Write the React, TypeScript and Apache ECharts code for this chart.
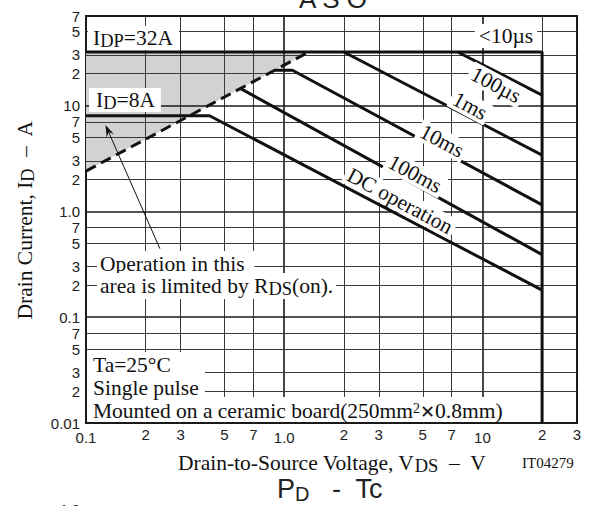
import React, { useEffect, useRef } from 'react';
import * as echarts from 'echarts';

// ---- axis ticks (log scales) ----
const xTicks = [0.1, 0.2, 0.3, 0.5, 0.7, 1, 2, 3, 5, 7, 10, 20, 30];
const xTickLabels = ['0.1', '2', '3', '5', '7', '1.0', '2', '3', '5', '7', '10', '2', '3'];
const yTicks = [0.01, 0.02, 0.03, 0.05, 0.07, 0.1, 0.2, 0.3, 0.5, 0.7, 1, 2, 3, 5, 7, 10, 20, 30, 50, 70];
const yTickLabels = ['0.01', '2', '3', '5', '7', '0.1', '2', '3', '5', '7', '1.0', '2', '3', '5', '7', '10', '2', '3', '5', '7'];
const decades = [0.01, 0.1, 1, 10];
const xBorderTicks = [0.1, 30];
const yBorderTicks = [0.01, 70];

// ---- SOA curves: [VDS (V), ID (A)] ----
const pulseLimit = [[0.1, 32], [20, 32], [20, 0.01]]; // <10us
const line100us = [[7.5, 32], [20, 12.5]];
const line1ms = [[2.0, 32], [20, 3.4]];
const line10ms = [[0.9, 21.5], [1.1, 21.5], [20, 1.15]];
const line100ms = [[0.6, 14.5], [20, 0.39]];
const lineDC = [[0.1, 8], [0.42, 8], [20, 0.18]];
const rdsLimit = [[0.1, 2.4], [1.33, 32]];
const shadeArea = [[0.1, 32], [1.33, 32], [0.1, 2.4]];
const arrowFrom = [0.236, 0.443];
const arrowTo = [0.129, 5.8];

const SERIF = 'Liberation Serif';
const SANS = 'Liberation Sans';
const INK = '#111';
const FS = 21.5;

const richSerif = (size = FS, lh = 24) => ({
  n: { fontFamily: SERIF, fontSize: size, lineHeight: lh, fill: INK, color: INK },
  s: { fontFamily: SERIF, fontSize: size - 3, lineHeight: 14, verticalAlign: 'bottom', fill: INK, color: INK },
  p: { fontFamily: SERIF, fontSize: 14, lineHeight: 12, verticalAlign: 'top', fill: INK, color: INK },
  x: { fontFamily: 'DejaVu Sans', fontWeight: 'bold', fontSize: 18, lineHeight: lh, fill: INK, color: INK },
});

function curve(data: number[][], extra: any = {}) {
  return {
    type: 'line',
    data,
    symbol: 'none',
    showSymbol: false,
    silent: true,
    z: 5,
    lineStyle: { color: INK, width: 3, ...(extra.lineStyle || {}) },
  };
}

function txt(x: number, y: number, text: string, style: any = {}, extra: any = {}) {
  return {
    type: 'text',
    x,
    y,
    z: 100,
    ...extra,
    style: {
      text,
      fontFamily: SERIF,
      fontSize: FS,
      fill: INK,
      align: 'left',
      verticalAlign: 'middle',
      ...style,
    },
  };
}

export default function App() {
  const ref = useRef<HTMLDivElement>(null);

  useEffect(() => {
    if (!ref.current) return;
    const chart = echarts.init(ref.current, null, { renderer: 'svg' });

    const gridLineData: any[] = [];
    xTicks.forEach((v, i) => {
      const isDec = decades.includes(v);
      const hidden = xBorderTicks.includes(v);
      gridLineData.push({
        xAxis: v,
        label: { formatter: xTickLabels[i], distance: isDec ? 8 : 5 },
        lineStyle: {
          color: hidden ? 'rgba(0,0,0,0)' : isDec ? '#1a1a1a' : '#3a3a3a',
          width: isDec ? 1.6 : 1, type: 'solid',
        },
      });
    });
    yTicks.forEach((v, i) => {
      const isDec = decades.includes(v);
      const hidden = yBorderTicks.includes(v);
      gridLineData.push({
        yAxis: v,
        label: { formatter: yTickLabels[i], distance: 6 },
        lineStyle: {
          color: hidden ? 'rgba(0,0,0,0)' : isDec ? '#1a1a1a' : '#3a3a3a',
          width: isDec ? 1.6 : 1, type: 'solid',
        },
      });
    });

    const option: any = {
      animation: false,
      grid: {
        left: 86, right: 24, top: 16, bottom: 83,
        show: true, borderColor: '#1a1a1a', borderWidth: 2, backgroundColor: '#fff',
      },
      xAxis: {
        type: 'log', logBase: 10, min: 0.1, max: 30,
        axisLine: { show: false }, axisTick: { show: false }, axisLabel: { show: false },
        splitLine: { show: false }, minorSplitLine: { show: false },
      },
      yAxis: {
        type: 'log', logBase: 10, min: 0.01, max: 70,
        axisLine: { show: false }, axisTick: { show: false }, axisLabel: { show: false },
        splitLine: { show: false }, minorSplitLine: { show: false },
      },
      series: [
        {
          type: 'custom',
          z: 1,
          silent: true,
          data: [shadeArea[0]],
          renderItem: (_p: any, api: any) => ({
            type: 'polygon',
            shape: { points: shadeArea.map((p) => api.coord(p)) },
            style: { fill: '#d2d2d2' },
          }),
        },
        {
          type: 'line',
          data: [],
          z: 2,
          silent: true,
          markLine: {
            silent: true,
            symbol: 'none',
            animation: false,
            label: {
              show: true,
              position: 'start',
              fontFamily: SANS,
              fontSize: 15,
              lineHeight: 12,
              color: '#222',
            },
            data: gridLineData,
          },
        },
        curve(pulseLimit),
        curve(line100us),
        curve(line1ms),
        curve(line10ms),
        curve(line100ms),
        curve(lineDC),
        curve(rdsLimit, { lineStyle: { type: [11, 6], width: 3 } }),
        {
          type: 'line',
          data: [],
          z: 6,
          silent: true,
          markLine: {
            silent: true,
            animation: false,
            symbol: ['none', 'path://M5,0 L10,14 L5,9 L0,14 Z'],
            symbolSize: [8, 12],
            label: { show: false },
            lineStyle: { color: INK, width: 1, type: 'solid' },
            data: [[{ coord: arrowFrom }, { coord: arrowTo }]],
          },
        },
      ],
      graphic: [
        // cut-off titles of neighbouring charts
        txt(333, 12, 'A S O', { fontFamily: SANS, fontSize: 26, align: 'center', verticalAlign: 'bottom', fill: '#222' }),
        txt(277, 489, '{a|P}{b|D}{a|   -  Tc}', {
          fontFamily: SANS, fontSize: 27,
          rich: {
            a: { fontFamily: SANS, fontSize: 27, lineHeight: 30, fill: '#222', color: '#222' },
            b: { fontFamily: SANS, fontSize: 20, lineHeight: 18, verticalAlign: 'bottom', fill: '#222', color: '#222' },
          },
        }),
        txt(69, 511, '4.0', { fontFamily: SANS, fontSize: 16, align: 'center', fill: '#222' }),
        // axis titles
        txt(178, 463, '{n|Drain-to-Source Voltage, V}{s|DS}{n|  –  V}', { rich: richSerif() }),
        txt(25, 220, '{n|Drain Current, I}{s|D}{n|  –  A}', { rich: richSerif(), align: 'center' }, { rotation: Math.PI / 2 }),
        txt(522, 463, 'IT04279', { fontSize: 15 }),
        // limit labels
        txt(88, 38, '{n|I}{s|DP}{n|=32A}', { rich: richSerif(), backgroundColor: '#fff', padding: [0, 6, 0, 5] }),
        txt(89, 100, '{n|I}{s|D}{n|=8A}', { rich: richSerif(), backgroundColor: '#fff', padding: [0, 6, 0, 7] }),
        txt(506, 36, '<10µs', { align: 'center', backgroundColor: '#fff', padding: [1, 4] }),
        txt(496, 85, '100µs', { align: 'center', backgroundColor: '#fff', padding: [0, 3] }, { rotation: -0.49 }),
        txt(470, 106, '1ms', { align: 'center', backgroundColor: '#fff', padding: [0, 3] }, { rotation: -0.49 }),
        txt(442, 141, '10ms', { align: 'center', backgroundColor: '#fff', padding: [0, 3] }, { rotation: -0.49 }),
        txt(415, 174, '100ms', { align: 'center', backgroundColor: '#fff', padding: [0, 3] }, { rotation: -0.49 }),
        txt(400, 201, 'DC operation', { align: 'center', backgroundColor: '#fff', padding: [0, 3] }, { rotation: -0.49 }),
        // RDS(on) note
        txt(97, 264, 'Operation in this', { backgroundColor: '#fff', padding: [2, 10, 2, 3] }),
        txt(97, 286, '{n|area is limited by R}{s|DS}{n|(on).}', { rich: richSerif(), backgroundColor: '#fff', padding: [1, 3, 1, 3] }),
        // conditions box
        { type: 'rect', z: 99, shape: { x: 87, y: 352, width: 118, height: 70 }, style: { fill: '#fff' } },
        { type: 'rect', z: 99, shape: { x: 87, y: 397, width: 418, height: 25 }, style: { fill: '#fff' } },
        txt(93, 365, 'Ta=25°C', { lineHeight: 20 }),
        txt(93, 388, 'Single pulse', { lineHeight: 20 }),
        txt(93, 411, '{n|Mounted on a ceramic board(250mm}{p|2}{x|✕}{n|0.8mm)}', { rich: richSerif(FS, 20) }),
      ],
    };

    chart.setOption(option);
    return () => chart.dispose();
  }, []);

  return (
    <div
      ref={ref}
      style={{ position: 'absolute', left: 0, top: 0, width: 601, height: 506, background: '#fff' }}
    />
  );
}
